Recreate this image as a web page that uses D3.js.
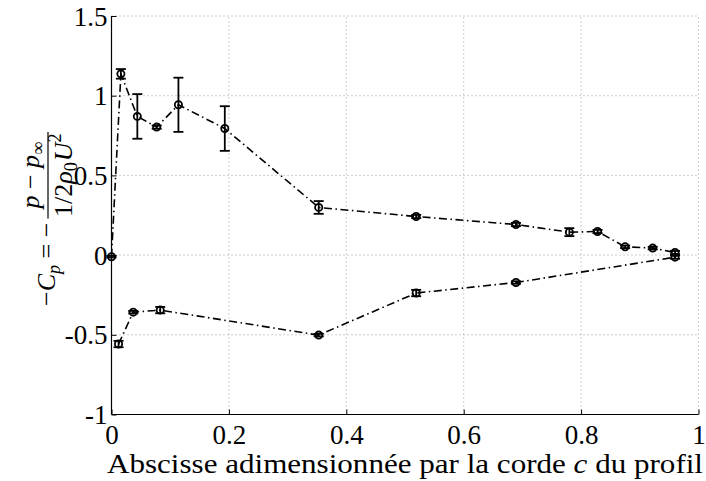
<!DOCTYPE html>
<html>
<head>
<meta charset="utf-8">
<script src="https://cdn.jsdelivr.net/npm/d3@7"></script>
<style>
  html, body { margin: 0; padding: 0; background: #fff; }
  svg { display: block; }
  text { font-family: "Liberation Serif", "DejaVu Serif", serif; fill: #000; }
</style>
</head>
<body>
<svg id="chart" width="706" height="481"></svg>
<script>
// ---- data ----
const upperX   = [0.000, 0.016, 0.044, 0.077, 0.114, 0.193, 0.353, 0.519, 0.689, 0.780, 0.828, 0.875, 0.922, 0.960];
const upperY   = [-0.010, 1.137, 0.870, 0.803, 0.943, 0.794, 0.299, 0.242, 0.192, 0.144, 0.148, 0.052, 0.044, 0.016];
const upperErr = [0.005, 0.030, 0.140, 0.010, 0.170, 0.140, 0.040, 0.010, 0.010, 0.025, 0.010, 0.008, 0.008, 0.010];
const lowerX   = [0.012, 0.037, 0.083, 0.353, 0.519, 0.689, 0.960];
const lowerY   = [-0.558, -0.358, -0.345, -0.502, -0.238, -0.172, -0.013];
const lowerErr = [0.020, 0.008, 0.020, 0.008, 0.020, 0.008, 0.010];
const xTicks = [0, 0.2, 0.4, 0.6, 0.8, 1];
const xTickLabels = ["0", "0.2", "0.4", "0.6", "0.8", "1"];
const yTicks = [-1, -0.5, 0, 0.5, 1, 1.5];
const yTickLabels = ["-1", "-0.5", "0", "0.5", "1", "1.5"];
const xLabel = "Abscisse adimensionnée par la corde ";
const xLabelVar = "c";
const xLabelEnd = " du profil";

// ---- layout ----
const L = 111.5, R = 698.5, T = 16, B = 414.5;
const svg = d3.select("#chart");
const x = d3.scaleLinear().domain([0, 1]).range([L, R]);
const y = d3.scaleLinear().domain([-1, 1.5]).range([B, T]);
const FS = 27;

// grid
const grid = svg.append("g").attr("stroke", "#a0a0a0").attr("stroke-width", 1).attr("stroke-dasharray", "1,3");
xTicks.filter(t => t > 0).forEach(t => {
  grid.append("line").attr("x1", x(t)).attr("x2", x(t)).attr("y1", B).attr("y2", T);
});
yTicks.filter(t => t > -1).forEach(t => {
  grid.append("line").attr("x1", L).attr("x2", R).attr("y1", y(t)).attr("y2", y(t));
});

// axes with inward ticks
const xAxis = d3.axisBottom(x).tickValues(xTicks).tickSize(-5).tickFormat((d, i) => xTickLabels[i]);
const yAxis = d3.axisLeft(y).tickValues(yTicks).tickSize(-5).tickFormat((d, i) => yTickLabels[i]);
const gx = svg.append("g").attr("transform", `translate(0,${B})`).call(xAxis);
const gy = svg.append("g").attr("transform", `translate(${L},0)`).call(yAxis);
[gx, gy].forEach(g => {
  g.attr("font-family", "Liberation Serif").attr("font-size", FS);
  g.select(".domain").attr("stroke", "#000").attr("stroke-width", 1.2);
  g.selectAll(".tick line").attr("stroke", "#000").attr("stroke-width", 1);
  g.selectAll("text").attr("font-family", "Liberation Serif").attr("font-size", FS).attr("fill", "#000");
});
gx.select(".domain").attr("d", `M${L},0H${R}`);
gy.select(".domain").attr("d", `M0,${T}V${B}`);
gx.selectAll(".tick text").attr("y", 0).attr("dy", null).attr("transform", "translate(0,29.5)");
gy.selectAll(".tick text").attr("x", -4).attr("dy", "0.34em");

// lines
const line = d3.line().x(d => x(d[0])).y(d => y(d[1]));
const upper = upperX.map((v, i) => [v, upperY[i], upperErr[i]]);
const lower = lowerX.map((v, i) => [v, lowerY[i], lowerErr[i]]);
[upper, lower].forEach(data => {
  svg.append("path").datum(data).attr("d", line)
    .attr("fill", "none").attr("stroke", "#000").attr("stroke-width", 1.6)
    .attr("stroke-dasharray", "8,3.5,1.5,3.5");
});

// error bars and markers
const eb = svg.append("g").attr("stroke", "#000").attr("stroke-width", 1.8);
upper.concat(lower).forEach(d => {
  const cx = x(d[0]), y1 = y(d[1] - d[2]), y2 = y(d[1] + d[2]);
  eb.append("line").attr("x1", cx).attr("x2", cx).attr("y1", y1).attr("y2", y2);
  eb.append("line").attr("x1", cx - 5).attr("x2", cx + 5).attr("y1", y1).attr("y2", y1);
  eb.append("line").attr("x1", cx - 5).attr("x2", cx + 5).attr("y1", y2).attr("y2", y2);
  eb.append("circle").attr("cx", cx).attr("cy", y(d[1])).attr("r", 3.6).attr("fill", "none");
});

// x label
const xl = svg.append("text").attr("x", (L + R) / 2).attr("y", 473)
  .attr("text-anchor", "middle").attr("font-size", 28)
  .attr("textLength", 596).attr("lengthAdjust", "spacingAndGlyphs");
xl.append("tspan").text(xLabel);
xl.append("tspan").attr("font-style", "italic").text(xLabelVar);
xl.append("tspan").text(xLabelEnd);

// y label: -C_p = - (p - p_inf) / (1/2 rho_0 U^2), rotated
const LF = 26;
const yl = svg.append("g").attr("transform", "translate(55,306) rotate(-90)");
const main = yl.append("text").attr("x", 0).attr("y", 0).attr("font-size", LF);
main.append("tspan").text("−");
main.append("tspan").attr("font-style", "italic").text("C");
main.append("tspan").attr("font-style", "italic").attr("font-size", LF * 0.7).attr("dy", 5).text("p");
main.append("tspan").attr("dy", -5).text(" = −");
const mw = main.node().getComputedTextLength();

const num = yl.append("text").attr("y", -16).attr("font-size", LF).attr("text-anchor", "middle");
num.append("tspan").attr("font-style", "italic").text("p");
num.append("tspan").text(" − ");
num.append("tspan").attr("font-style", "italic").text("p");
num.append("tspan").attr("font-size", LF * 0.7).attr("dy", 5).text("∞");

const den = yl.append("text").attr("y", 17).attr("font-size", LF).attr("text-anchor", "middle");
den.append("tspan").text("1/2");
den.append("tspan").attr("font-style", "italic").text("ρ");
den.append("tspan").attr("font-size", LF * 0.7).attr("dy", 5).text("0");
den.append("tspan").attr("dy", -5).attr("font-style", "italic").attr("dx", 1).text("U");
den.append("tspan").attr("font-size", LF * 0.7).attr("dy", -11).text("2");

const fw = Math.max(num.node().getComputedTextLength(), den.node().getComputedTextLength()) + 4;
const fx = mw + 4;
num.attr("x", fx + fw / 2);
den.attr("x", fx + fw / 2);
yl.append("line").attr("x1", fx).attr("x2", fx + fw).attr("y1", -7).attr("y2", -7)
  .attr("stroke", "#000").attr("stroke-width", 1.2);
</script>
</body>
</html>
